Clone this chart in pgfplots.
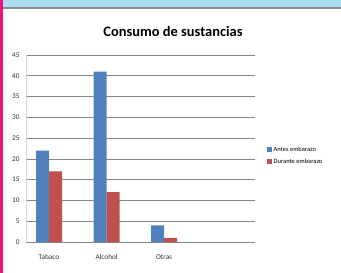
\documentclass[border=0pt]{standalone}
\usepackage{fontspec}
\setmainfont{Carlito}
\usepackage{pgfplots}
\pgfplotsset{compat=1.18}
\definecolor{cblue}{HTML}{4F81BD}
\definecolor{cred}{HTML}{C0504D}
\definecolor{topband}{HTML}{ADDCF5}
\definecolor{pinkbar}{HTML}{EE1679}
\definecolor{gridg}{HTML}{868686}
\begin{document}
\begin{tikzpicture}[x=1bp,y=1bp]
\useasboundingbox (0,0) rectangle (341,273);
\fill[white] (0,0) rectangle (341,273);
\fill[topband] (0,265) rectangle (341,273);
\fill[gray!90] (0,263.5) rectangle (341,265.5);
\fill[pinkbar] (0,0) rectangle (3,273);
\node[font=\bfseries\fontsize{14.5}{16}\selectfont] at (173,242) {Consumo de sustancias};
\begin{axis}[
  at={(26bp,31bp)}, anchor=south west,
  width=229bp, height=187bp, scale only axis,
  ymin=0, ymax=45, ytick distance=5,
  xmin=-0.4, xmax=3.58,
  xtick={0,1,2}, xticklabels={Tabaco,Alcohol,Otras},
  ymajorgrids, grid style={gridg, line width=0.6pt},
  major tick length=0pt,
  axis lines*=left, axis line style={-},
  x axis line style={draw=none},
  y axis line style={draw=gray!30, line width=0.8pt},
  ticklabel style={font=\fontsize{7.3}{8}\selectfont, text=black!80},
  yticklabel style={xshift=-3bp},
  xticklabel style={yshift=-9bp},
  /pgf/number format/assume math mode=true,
  ybar=0pt, bar width=13bp,
  legend style={at={(1.05,0.46)}, anchor=west, draw=none, fill=none,
    font=\fontsize{6.5}{8}\selectfont, row sep=2bp, inner sep=0pt,
    legend cell align=left},
  legend image code/.code={\fill[#1,draw=none] (0bp,-2.5bp) rectangle (5bp,2.5bp);},
]
\addplot[fill=cblue, draw=none] coordinates {(0,22) (1,41) (2,4)};
\addplot[fill=cred, draw=none] coordinates {(0,17) (1,12) (2,1)};
\legend{Antes embarazo, Durante embarazo}
\end{axis}
\end{tikzpicture}
\end{document}
